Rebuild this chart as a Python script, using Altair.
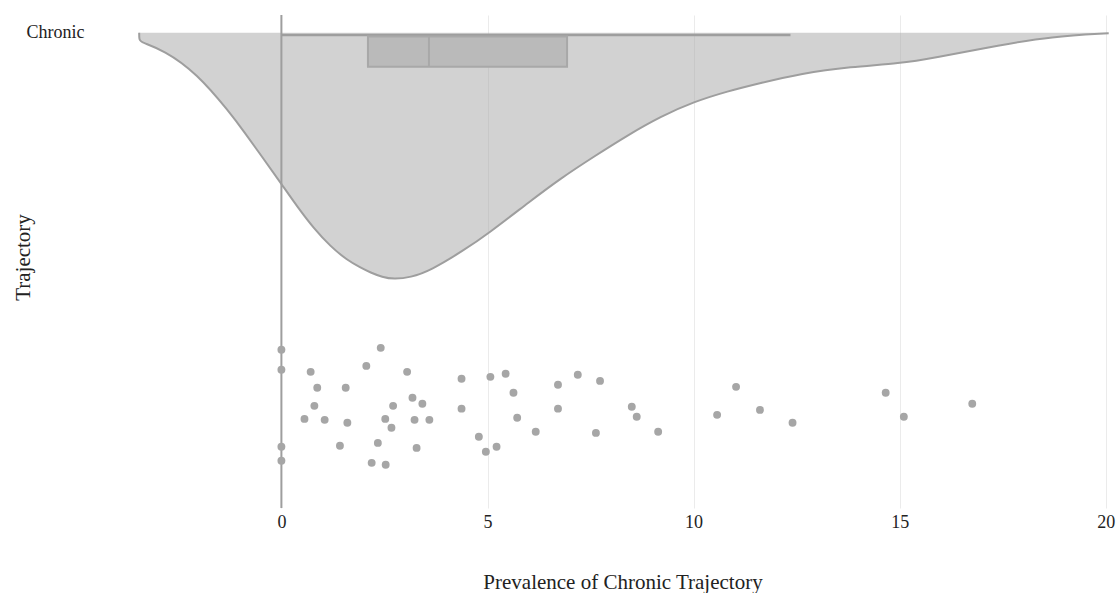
import altair as alt
import pandas as pd

# Density outline (half violin): x value, signed height
dens_x = [-3.45, -3.45, -3.40, -2.86, -2.05, -1.24, -0.92, -0.43, 0.0, 0.39, 0.78, 1.19,
          1.59, 1.92, 2.16, 2.45, 2.72, 3.13, 3.62, 4.42, 5.02, 6.04, 6.77, 7.58, 8.39,
          9.20, 10.01, 10.82, 11.63, 12.60, 13.81, 15.02, 15.82, 17.45, 18.67, 20.07]
dens_y = [0.0, -0.030, -0.040, -0.072, -0.170, -0.338, -0.413, -0.531, -0.636, -0.733,
          -0.822, -0.899, -0.956, -0.988, -1.009, -1.028, -1.037, -1.030, -1.000, -0.916,
          -0.845, -0.708, -0.613, -0.521, -0.432, -0.352, -0.290, -0.246, -0.211, -0.171,
          -0.143, -0.129, -0.106, -0.051, -0.016, -0.002]

# Raw observations (prevalence) and their vertical jitter
pts_x = [0, 0, 0, 0, 0.71, 0.87, 0.80, 0.56, 1.05, 1.56, 1.60, 1.42, 2.06, 2.41, 2.19,
         2.53, 2.34, 2.52, 2.67, 2.71, 3.05, 3.18, 3.42, 3.23, 3.59, 3.28, 4.37, 4.37,
         4.79, 4.96, 5.22, 5.07, 5.44, 5.63, 5.72, 6.17, 6.71, 6.71, 7.19, 7.73, 7.63,
         8.50, 8.62, 9.14, 10.57, 11.03, 11.61, 12.40, 14.66, 15.10, 16.76]
pts_jit = [-1.334, -1.418, -1.742, -1.801, -1.427, -1.494, -1.570, -1.625, -1.629, -1.494,
           -1.641, -1.738, -1.402, -1.326, -1.810, -1.818, -1.726, -1.625, -1.662, -1.570,
           -1.427, -1.536, -1.561, -1.629, -1.629, -1.747, -1.456, -1.582, -1.700, -1.763,
           -1.742, -1.448, -1.435, -1.515, -1.620, -1.679, -1.481, -1.582, -1.439, -1.465,
           -1.684, -1.574, -1.616, -1.679, -1.608, -1.490, -1.587, -1.641, -1.515, -1.616,
           -1.561]

# Box plot statistics
box_q1, box_med, box_q3 = 2.10, 3.58, 6.93
whisk_lo, whisk_hi = 0.0, 12.35
box_top, box_bottom, whisk_y = -0.016, -0.143, -0.009

x_ticks = [0, 5, 10, 15, 20]

FONT = "Liberation Serif"

dens_df = pd.DataFrame({"idx": range(len(dens_x)), "x": dens_x, "y": dens_y,
                        "base": [0.0] * len(dens_x)})
pts_df = pd.DataFrame({"x": pts_x, "y": pts_jit})
box_df = pd.DataFrame({"q1": [box_q1], "q3": [box_q3], "med": [box_med],
                       "lo": [whisk_lo], "hi": [whisk_hi],
                       "top": [box_top], "bot": [box_bottom], "wy": [whisk_y]})
zero_df = pd.DataFrame({"x": [0]})

xs = alt.Scale(domain=[-3.6, 20.15], nice=False, zero=False)
ys = alt.Scale(domain=[-2.0, 0.075], nice=False, zero=False)

x_axis = alt.Axis(values=x_ticks, grid=True, gridColor="#ebebeb", gridWidth=1,
                  domain=False, ticks=False, labelFont=FONT, labelFontSize=18,
                  labelColor="#222222", labelPadding=5,
                  title="Prevalence of Chronic Trajectory", titleFont=FONT,
                  titleFontSize=21, titleFontWeight="normal", titleColor="#222222",
                  titlePadding=40)
y_axis = alt.Axis(values=[0], labelExpr="'Chronic'", grid=False, ticks=False,
                  domain=False, labelFont=FONT, labelFontSize=18, labelColor="#222222",
                  labelPadding=49, title="Trajectory", titleFont=FONT, titleFontSize=21,
                  titleFontWeight="normal", titleColor="#222222", titleAngle=270,
                  titleX=-110, titleY=242, titleBaseline="middle", titleAlign="center")


def X(field):
    return alt.X(field, type="quantitative", scale=xs, axis=x_axis)


def Y(field):
    return alt.Y(field, type="quantitative", scale=ys, axis=y_axis)


area = alt.Chart(dens_df).mark_area(color="#a6a6a6", opacity=0.5, clip=True,
                                    interpolate="basis", orient="vertical").encode(
    x=X("x"), y=Y("y"), y2="base")
outline = alt.Chart(dens_df).mark_line(color="#9e9e9e", strokeWidth=2, clip=True,
                                       interpolate="basis").encode(
    x=X("x"), y=Y("y"), order="idx:Q")
whisker = alt.Chart(box_df).mark_rule(color="#9e9e9e", strokeWidth=2.5).encode(
    x=X("lo"), x2="hi", y=Y("wy"))
box = alt.Chart(box_df).mark_rect(fill="#bababa", stroke="#a8a8a8", strokeWidth=2).encode(
    x=X("q1"), x2="q3", y=Y("top"), y2="bot")
median = alt.Chart(box_df).mark_rule(color="#a8a8a8", strokeWidth=2).encode(
    x=X("med"), y=Y("top"), y2="bot")
zero = alt.Chart(zero_df).mark_rule(color="#9e9e9e", strokeWidth=2).encode(x=X("x"))
points = alt.Chart(pts_df).mark_circle(color="#a6a6a6", size=62, opacity=1).encode(
    x=X("x"), y=Y("y"))

chart = alt.layer(area, outline, whisker, box, median, zero, points).properties(
    width=979, height=493,
    autosize=alt.AutoSizeParams(type="none"),
    padding={"left": 133, "top": 15, "right": 4, "bottom": 85},
    background="white",
).configure_view(stroke=None)

chart.save("out.html", embed_options={"renderer": "svg", "actions": False})
